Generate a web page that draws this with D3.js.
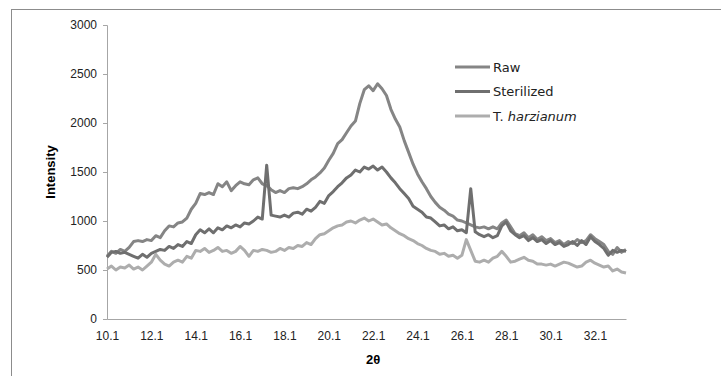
<!DOCTYPE html>
<html>
<head>
<meta charset="utf-8">
<script src="https://cdn.jsdelivr.net/npm/d3@7"></script>
<style>
  body { margin: 0; background: #fff; }
  svg { display: block; }
</style>
</head>
<body>
<div id="my_dataviz"></div>
<script>
// 2-theta runs from 10.1 in steps of 0.2 (one row below = one degree)
var thetaStart = 10.1, thetaStep = 0.2;
var tickLabels = ["10.1", "12.1", "14.1", "16.1", "18.1", "20.1", "22.1", "24.1", "26.1", "28.1", "30.1", "32.1"];
var yTicks = [0, 500, 1000, 1500, 2000, 2500, 3000];
var seriesNames = ["Raw", "Sterilized", "T. harzianum"];

var raw = [
  640, 690, 670, 710, 690,
  730, 790, 800, 790, 810,
  800, 850, 830, 900, 950,
  940, 980, 990, 1030, 1120,
  1180, 1280, 1270, 1290, 1270,
  1380, 1350, 1400, 1310, 1360,
  1400, 1380, 1370, 1420, 1440,
  1380, 1360, 1320, 1290, 1310,
  1290, 1330, 1340, 1330, 1350,
  1380, 1420, 1450, 1490, 1540,
  1620, 1690, 1790, 1830, 1900,
  1970, 2020, 2200, 2340, 2380,
  2330, 2400, 2350, 2280, 2140,
  2040, 1960, 1820, 1700, 1580,
  1480, 1400, 1330, 1250, 1190,
  1140, 1110, 1070, 1050, 1010,
  1000, 980, 960, 940, 930,
  940, 920, 940, 920, 980,
  1010, 940, 870, 850, 880,
  830, 860, 810, 840, 800,
  820, 780, 800, 760, 790,
  770, 810, 780, 800, 860,
  820, 790, 760, 690, 660,
  730, 680, 710
];

var sterilized = [
  630, 680, 690, 670, 680,
  660, 640, 620, 660, 630,
  670, 690, 710, 700, 740,
  720, 760, 740, 790, 770,
  860, 910, 880, 920, 880,
  930, 910, 950, 930, 960,
  940, 980, 970, 1000, 1040,
  1020, 1570, 1060, 1050, 1040,
  1060, 1040, 1080, 1090, 1070,
  1120, 1100, 1140, 1200, 1180,
  1260, 1300, 1350, 1390, 1440,
  1470, 1520, 1500, 1550, 1530,
  1560, 1520, 1550, 1500, 1440,
  1390, 1330, 1280, 1230, 1150,
  1120, 1090, 1040, 1030, 990,
  950, 960, 920, 940, 900,
  910, 880, 1330, 890, 860,
  840, 860, 830, 850, 950,
  990, 900, 860, 830, 850,
  800, 830, 790, 810, 770,
  800, 760, 780, 740, 760,
  790, 750, 800, 760, 840,
  790, 760, 720, 650, 700,
  680, 700, 690
];

var harzianum = [
  510, 540, 500, 530, 520,
  550, 510, 530, 500, 540,
  580, 660, 600, 560, 540,
  580, 600, 580, 640, 620,
  700, 690, 720, 680, 700,
  730, 690, 700, 670, 690,
  740, 700, 640, 700, 690,
  710, 700, 680, 690, 720,
  700, 730, 720, 750, 740,
  780, 760, 820, 860, 870,
  900, 930, 950, 960, 990,
  1000, 980, 1010, 1030, 1000,
  1020, 990, 960, 970, 930,
  900, 870, 850, 820, 800,
  770, 750, 720, 700, 690,
  660, 670, 640, 650, 620,
  650, 810, 700, 590, 580,
  600, 580, 620, 640, 690,
  640, 580, 590, 610, 630,
  600, 590, 560, 560, 550,
  560, 540, 560, 580, 570,
  550, 530, 540, 580, 600,
  570, 550, 530, 540, 490,
  510, 480, 470
];

var colors = ["#858585", "#6f6f6f", "#adadad"];

var margin = {top: 25, right: 95, bottom: 57, left: 107},
    width = 721 - margin.left - margin.right,
    height = 376 - margin.top - margin.bottom;

var root = d3.select("#my_dataviz")
  .append("svg")
    .attr("width", 721)
    .attr("height", 376);

// outer chart frame (runs off the right and bottom edges)
root.append("rect")
  .attr("x", 11.5).attr("y", 9.5)
  .attr("width", 760).attr("height", 420)
  .attr("fill", "none")
  .attr("stroke", "#8c8c8c")
  .attr("stroke-width", 1);

var svg = root.append("g")
  .attr("transform", "translate(" + margin.left + "," + margin.top + ")");

var thetaEnd = thetaStart + thetaStep * (raw.length - 1);

var x = d3.scaleLinear()
  .domain([thetaStart, thetaEnd])
  .range([0, width]);

var y = d3.scaleLinear()
  .domain([0, 3000])
  .range([height, 0]);

function theta(i) { return thetaStart + thetaStep * i; }

var yAxis = svg.append("g")
  .call(d3.axisLeft(y).tickValues(yTicks).tickFormat(d3.format("d")).tickSize(4).tickPadding(6));

var xAxis = svg.append("g")
  .attr("transform", "translate(0," + height + ")")
  .call(d3.axisBottom(x)
    .tickValues(tickLabels.map(Number))
    .tickFormat(function(d, i) { return tickLabels[i]; })
    .tickSize(0).tickPadding(12));

[yAxis, xAxis].forEach(function(a) {
  a.select(".domain").attr("stroke", "#a6a6a6");
  a.selectAll(".tick line").attr("stroke", "#a6a6a6");
  a.selectAll("text")
    .style("font-family", "'Liberation Sans', Arial, sans-serif")
    .style("font-size", "12px")
    .attr("fill", "#222");
});

// axis titles
svg.append("text")
  .attr("text-anchor", "middle")
  .attr("x", x(22.1))
  .attr("y", height + 45)
  .style("font-family", "'Liberation Sans', Arial, sans-serif")
  .style("font-size", "13px")
  .style("font-weight", "bold")
  .text("2θ");

svg.append("text")
  .attr("text-anchor", "middle")
  .attr("transform", "rotate(-90)")
  .attr("x", -(172 - margin.top))
  .attr("y", 50 - margin.left + 5)
  .style("font-family", "'Liberation Sans', Arial, sans-serif")
  .style("font-size", "13px")
  .style("font-weight", "bold")
  .text("Intensity");

// lines
var line = d3.line()
  .x(function(d, i) { return x(theta(i)); })
  .y(function(d) { return y(d); });

[raw, sterilized, harzianum].forEach(function(s, k) {
  svg.append("path")
    .datum(s)
    .attr("fill", "none")
    .attr("stroke", colors[k])
    .attr("stroke-width", 3)
    .attr("stroke-linejoin", "round")
    .attr("d", line);
});

// legend
var legend = root.append("g").attr("transform", "translate(455,67)");
seriesNames.forEach(function(name, k) {
  var row = legend.append("g").attr("transform", "translate(0," + (k * 24.5) + ")");
  row.append("line")
    .attr("x1", 0).attr("x2", 35)
    .attr("stroke", colors[k])
    .attr("stroke-width", 3);
  var t = row.append("text")
    .attr("x", 38)
    .attr("dy", "0.35em")
    .style("font-family", "'DejaVu Sans', sans-serif")
    .style("font-size", "13px")
    .attr("fill", "#222");
  if (name === "T. harzianum") {
    t.append("tspan").text("T. ");
    t.append("tspan").style("font-style", "italic").text("harzianum");
  } else {
    t.text(name);
  }
});
</script>
</body>
</html>
